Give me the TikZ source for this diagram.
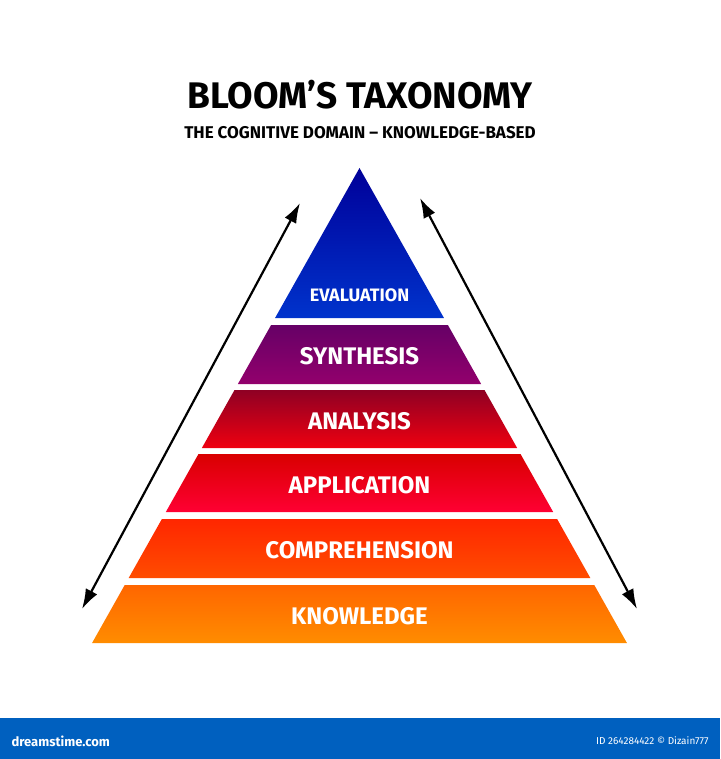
\documentclass[tikz,border=0pt]{standalone}
\usepackage{fontspec}
\setmainfont{Fira Sans}
\usetikzlibrary{arrows.meta}
\begin{document}
\begin{tikzpicture}[x=1pt,y=-1pt,
  lbl/.style={text=white,font=\fontsize{24}{26}\selectfont\bfseries},
  arr/.style={line width=2.2pt,{Latex[length=20pt,width=13pt]}-{Latex[length=20pt,width=13pt]}}]
\useasboundingbox (0,0) rectangle (720,759);
\fill[white] (0,0) rectangle (720,759);
\def\cx{359.5}\def\k{0.563}\def\ay{168}
\newcommand\lay[5]{%
  \shade[top color=#3,bottom color=#4] ({\cx-\k*(#1-\ay)},#1) -- ({\cx+\k*(#1-\ay)},#1) -- ({\cx+\k*(#2-\ay)},#2) -- ({\cx-\k*(#2-\ay)},#2) -- cycle;
  \node[lbl] (#5) at (\cx,{(#1+#2)/2+2}) {\MakeUppercase{#5}};}
\shade[top color=blue!60!black,bottom color=blue!75!cyan!80!black] (\cx,\ay) -- ({\cx+\k*150},318) -- ({\cx-\k*150},318) -- cycle;
\node[lbl,font=\fontsize{18}{20}\selectfont\bfseries] (ev) at (\cx,295) {EVALUATION};
\lay{325}{384}{violet!80!black}{violet!70!purple}{Synthesis}
\lay{390}{448}{purple!80!red!70!black}{red!75!purple}{Analysis}
\lay{454}{512}{red!85!black}{red!80!magenta}{Application}
\lay{519}{578}{red!70!orange}{orange!60!red}{Comprehension}
\lay{585}{643}{orange!80!red}{orange!90!yellow}{Knowledge}
\coordinate (l1) at (300,203); \coordinate (l2) at (82,609);
\coordinate (r1) at (420,198); \coordinate (r2) at (637,609);
\draw[arr] (l1) -- (l2);
\draw[arr] (r1) -- (r2);
\node[font=\fontsize{37}{39}\selectfont\bfseries] (title) at (360,95) {BLOOM'S TAXONOMY};
\node[font=\fontsize{17}{19}\selectfont\bfseries] (sub) at (360,133) {THE COGNITIVE DOMAIN -- KNOWLEDGE-BASED};
\fill[blue!50!cyan!75!black] (0,718) rectangle (720,759);
\node[text=white,font=\fontsize{13}{14}\selectfont\bfseries,anchor=west] (dt) at (8,741) {dreamstime.com};
\node[text=white,font=\fontsize{10}{12}\selectfont,anchor=east] (id) at (712,741) {ID 264284422 © Dizain777};
\end{tikzpicture}
\end{document}
